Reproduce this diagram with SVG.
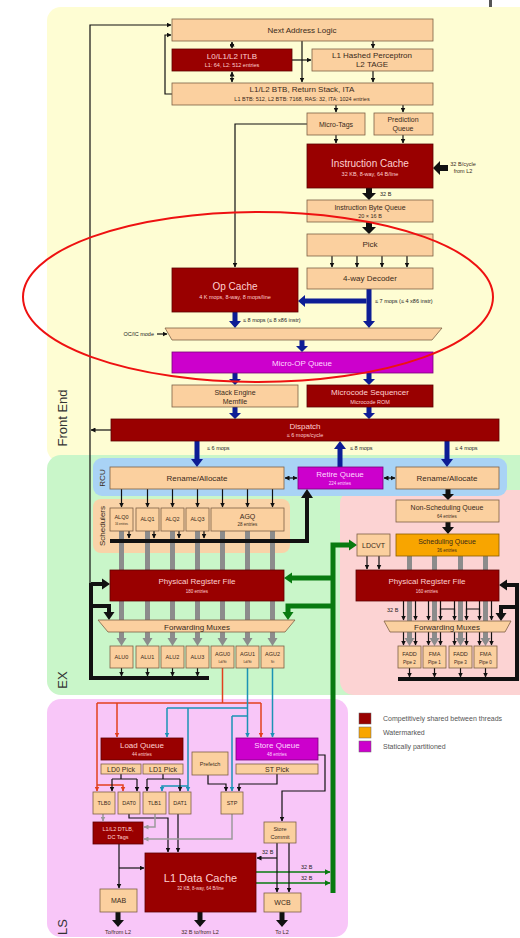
<svg xmlns="http://www.w3.org/2000/svg" width="520" height="938" viewBox="0 0 520 938">
<style>
.pb{fill:#fbd09f;stroke:#7d5f45;stroke-width:0.8}
.dr{fill:#990000;stroke:#5c0000;stroke-width:0.8}
.mg{fill:#cc00cc;stroke:#7a007a;stroke-width:0.8}
.og{fill:#f8a500;stroke:#8a5c00;stroke-width:0.8}
text{font-family:"Liberation Sans",Arial,sans-serif;text-anchor:middle;fill:#3a2a1a;font-size:8px}
.w{fill:#ffd0d0}
.wm{fill:#ffd8ff}
.s{font-size:5.5px}
.xs{font-size:4.5px}
.m7{font-size:7px}
.l{font-size:10px}
.lab{text-anchor:start;font-size:5.5px;fill:#222}
.reg{font-size:13px;fill:#333}
.k{fill:none;stroke:#111;stroke-width:1.2}
.kt{fill:none;stroke:#111;stroke-width:4}
.gy{fill:none;stroke:#8c8c8c;stroke-width:5}
.rd{fill:none;stroke:#e2401e;stroke-width:1.5}
.tl{fill:none;stroke:#1b93b5;stroke-width:1.5}
.lg{fill:none;stroke:#9a9a9a;stroke-width:1.5}
.gr{fill:none;stroke:#087a10;stroke-width:5}
.grt{fill:none;stroke:#087a10;stroke-width:1.6}
.bl{fill:#0d1d95}
.kf{fill:#111}
.gf{fill:#087a10}
.gyf{fill:#8c8c8c}
</style>
<defs>
<marker id="ak" viewBox="0 0 10 10" refX="9" refY="5" markerWidth="5" markerHeight="5" markerUnits="userSpaceOnUse" orient="auto-start-reverse"><path d="M0,0 L10,5 L0,10 z" fill="#111"/></marker>
<marker id="ar" viewBox="0 0 10 10" refX="9" refY="5" markerWidth="5" markerHeight="5" markerUnits="userSpaceOnUse" orient="auto"><path d="M0,0 L10,5 L0,10 z" fill="#e2401e"/></marker>
<marker id="at" viewBox="0 0 10 10" refX="9" refY="5" markerWidth="5" markerHeight="5" markerUnits="userSpaceOnUse" orient="auto"><path d="M0,0 L10,5 L0,10 z" fill="#1b93b5"/></marker>
<marker id="ag" viewBox="0 0 10 10" refX="9" refY="5" markerWidth="5" markerHeight="5" markerUnits="userSpaceOnUse" orient="auto"><path d="M0,0 L10,5 L0,10 z" fill="#9a9a9a"/></marker>
<marker id="agr" viewBox="0 0 10 10" refX="9" refY="5" markerWidth="6" markerHeight="6" markerUnits="userSpaceOnUse" orient="auto"><path d="M0,0 L10,5 L0,10 z" fill="#087a10"/></marker>
</defs>

<g id="regions">
<rect x="47" y="7" width="500" height="455" rx="14" fill="#fefdd3"/>
<rect x="47" y="455" width="500" height="240" rx="14" fill="#c9f6c9"/>
<rect x="340" y="490" width="200" height="205" rx="14" fill="#fcd3d3"/>
<rect x="47" y="699" width="301" height="238" rx="14" fill="#f8c6f8"/>
<rect x="93" y="458" width="414" height="38" rx="9" fill="#a9d3f5"/>
<rect x="93" y="499" width="197" height="54" rx="8" fill="#f9d3a8"/>
<rect x="489" y="0" width="3" height="7" fill="#555"/>
<text class="reg" transform="translate(67,418) rotate(-90)">Front End</text>
<text class="reg" transform="translate(67,680) rotate(-90)">EX</text>
<text class="reg" transform="translate(67,927) rotate(-90)">LS</text>
<text transform="translate(105,478) rotate(-90)">RCU</text>
<text transform="translate(105,526) rotate(-90)">Schedulers</text>
</g>

<g id="connectors">
<path class="gy" d="M121.5,531 V638 M147.5,531 V638 M172.5,531 V638 M197.5,531 V638 M222.5,531 V638 M247.5,531 V638 M272.5,531 V638"/>
<path class="gyf" d="M116.5,638 H126.5 L121.5,646 Z M142.5,638 H152.5 L147.5,646 Z M167.5,638 H177.5 L172.5,646 Z M192.5,638 H202.5 L197.5,646 Z M217.5,638 H227.5 L222.5,646 Z M242.5,638 H252.5 L247.5,646 Z M267.5,638 H277.5 L272.5,646 Z"/>
<path class="gy" d="M409.5,556 V638 M434.5,556 V638 M460.5,556 V638 M485.5,556 V638"/>
<path class="gyf" d="M404.5,638 H414.5 L409.5,646 Z M429.5,638 H439.5 L434.5,646 Z M455.5,638 H465.5 L460.5,646 Z M480.5,638 H490.5 L485.5,646 Z"/>

<path class="k" d="M90,584 V25 H171" marker-end="url(#ak)"/>
<path class="k" d="M172,94 H165 V35 H171" marker-end="url(#ak)"/>
<path class="k" d="M111,430 H91" marker-end="url(#ak)"/>
<path class="k" d="M232,42 V48" marker-start="url(#ak)" marker-end="url(#ak)"/>
<path class="k" d="M232,72 V82" marker-start="url(#ak)" marker-end="url(#ak)"/>
<path class="k" d="M302,41 V82" marker-end="url(#ak)"/>
<path class="k" d="M292,60 H311" marker-end="url(#ak)"/>
<path class="k" d="M373,41 V48" marker-end="url(#ak)"/>
<path class="k" d="M373,71 V82" marker-end="url(#ak)"/>
<path class="k" d="M336,105 V112" marker-end="url(#ak)"/>
<path class="k" d="M403,105 V112" marker-end="url(#ak)"/>
<path class="k" d="M336,135 V143" marker-end="url(#ak)"/>
<path class="k" d="M403,135 V143" marker-end="url(#ak)"/>
<path class="k" d="M307,124 H235 V267" marker-end="url(#ak)"/>
<path class="k" d="M332,256 V267" marker-end="url(#ak)"/>
<path class="k" d="M357,256 V267" marker-end="url(#ak)"/>
<path class="k" d="M382,256 V267" marker-end="url(#ak)"/>
<path class="k" d="M407,256 V267" marker-end="url(#ak)"/>
<path class="k" d="M157,334 H167" marker-end="url(#ak)"/>

<path class="kf" d="M366,188 H372 V193 H376 L369,200 L362,193 H366 Z"/>
<path class="kf" d="M366,222 H372 V227 H376 L369,234 L362,227 H366 Z"/>
<path class="kf" d="M448,165 V171 H440 V175 L433,168 L440,161 V165 Z"/>

<path class="bl" d="M366.5,289 H371.5 V321 H375 L369,328 L363,321 H366.5 Z"/>
<path class="bl" d="M366.5,298.5 H305 V295 L298,301 L305,307 V303.5 H366.5 Z"/>
<path class="bl" d="M232.5,312 H237.5 V321 H241 L235,328 L229,321 H232.5 Z"/>
<path class="bl" d="M299.5,340 H304.5 V346 H308 L302,352 L296,346 H299.5 Z"/>
<path class="bl" d="M232.5,373 H237.5 V379 H241 L235,385 L229,379 H232.5 Z"/>
<path class="bl" d="M366.5,373 H371.5 V379 H375 L369,385 L363,379 H366.5 Z"/>
<path class="bl" d="M232.5,407 H237.5 V413 H241 L235,419 L229,413 H232.5 Z"/>
<path class="bl" d="M366.5,407 H371.5 V413 H375 L369,419 L363,413 H366.5 Z"/>
<path class="bl" d="M194.5,441 H199.5 V459 H203 L197,467 L191,459 H194.5 Z"/>
<path class="bl" d="M337.5,467 H342.5 V449 H346 L340,441 L334,449 H337.5 Z"/>
<path class="bl" d="M444.5,441 H449.5 V459 H453 L447,467 L441,459 H444.5 Z"/>

<text class="lab" x="380" y="196">32 B</text>
<text class="s" x="463" y="166">32 B/cycle</text>
<text class="s" x="463" y="173">from L2</text>
<text class="lab" x="375" y="303">≤ 7 mops (≤ 4 x86 instr)</text>
<text class="lab" x="243" y="322">≤ 8 mops (≤ 8 x86 instr)</text>
<text class="lab" x="154" y="336" style="text-anchor:end">OC/IC mode</text>
<text class="lab" x="207" y="450">≤ 6 mops</text>
<text class="lab" x="350" y="450">≤ 8 mops</text>
<text class="lab" x="455" y="450">≤ 4 mops</text>

<path class="k" d="M121.5,489 V507" marker-end="url(#ak)"/>
<path class="k" d="M147.5,489 V507" marker-end="url(#ak)"/>
<path class="k" d="M172.5,489 V507" marker-end="url(#ak)"/>
<path class="k" d="M197.5,489 V507" marker-end="url(#ak)"/>
<path class="k" d="M222.5,489 V507" marker-end="url(#ak)"/>
<path class="k" d="M247.5,489 V507" marker-end="url(#ak)"/>
<path class="k" d="M272.5,489 V507" marker-end="url(#ak)"/>
<path class="k" d="M285,478 H297" marker-start="url(#ak)" marker-end="url(#ak)"/>
<path class="k" d="M384,478 H395" marker-start="url(#ak)" marker-end="url(#ak)"/>
<path class="k" d="M129,531 V538" marker-end="url(#ak)"/>
<path class="k" d="M154,531 V538" marker-end="url(#ak)"/>
<path class="k" d="M179,531 V538" marker-end="url(#ak)"/>
<path class="k" d="M204,531 V538" marker-end="url(#ak)"/>
<path class="kt" d="M110,541 H307 V498"/>
<path class="kf" d="M301,498 H313 L307,489 Z"/>
<path class="kt" d="M91,583 V678 H209 M91,584 H102 M91,606 H109 V612"/>
<path class="kf" d="M102,578.5 V589.5 L110,584 Z M103.5,612 H114.5 L109,620 Z"/>
<path class="k" d="M121.5,668 V676" marker-end="url(#ak)"/>
<path class="k" d="M147.5,668 V676" marker-end="url(#ak)"/>
<path class="k" d="M172.5,668 V676" marker-end="url(#ak)"/>
<path class="k" d="M197.5,668 V676" marker-end="url(#ak)"/>

<path class="kf" d="M445.5,489 H450.5 V494 H454 L448,500 L442,494 H445.5 Z"/>
<path class="kf" d="M445.5,522 H450.5 V527 H454 L448,534 L442,527 H445.5 Z"/>
<path class="k" d="M367,556 V569" marker-end="url(#ak)"/>
<path class="k" d="M379,556 V569" marker-end="url(#ak)"/>
<path class="k" d="M403.5,601 V620" marker-end="url(#ak)"/>
<path class="k" d="M415.5,601 V620" marker-end="url(#ak)"/>
<path class="k" d="M428.5,601 V620" marker-end="url(#ak)"/>
<path class="k" d="M440.5,601 V620" marker-end="url(#ak)"/>
<path class="k" d="M454.5,601 V620" marker-end="url(#ak)"/>
<path class="k" d="M466.5,601 V620" marker-end="url(#ak)"/>
<path class="k" d="M479.5,601 V620" marker-end="url(#ak)"/>
<path class="k" d="M491.5,601 V620" marker-end="url(#ak)"/>
<path class="k" d="M440.5,614 V609 H454.5 V614 M466.5,614 V609 H479.5 V614"/>
<path class="k" d="M403.5,632 V645" marker-end="url(#ak)"/>
<path class="k" d="M415.5,632 V645" marker-end="url(#ak)"/>
<path class="k" d="M428.5,632 V645" marker-end="url(#ak)"/>
<path class="k" d="M440.5,632 V645" marker-end="url(#ak)"/>
<path class="k" d="M454.5,632 V645" marker-end="url(#ak)"/>
<path class="k" d="M466.5,632 V645" marker-end="url(#ak)"/>
<path class="k" d="M479.5,632 V645" marker-end="url(#ak)"/>
<path class="k" d="M491.5,632 V645" marker-end="url(#ak)"/>
<path class="k" d="M409.5,668 V677" marker-end="url(#ak)"/>
<path class="k" d="M434.5,668 V677" marker-end="url(#ak)"/>
<path class="k" d="M460.5,668 V677" marker-end="url(#ak)"/>
<path class="k" d="M485.5,668 V677" marker-end="url(#ak)"/>
<path class="kt" d="M398,679 H517 V585 H507 M517,607 H501 V613"/>
<path class="kf" d="M507,579.5 V590.5 L499,585 Z M495.5,613 H506.5 L501,621 Z"/>
<text class="lab" x="387" y="612">32 B</text>

<path class="gr" d="M333,893 V545 H349 M333,578 H292 M333,606 H288 V612"/>
<path class="gf" d="M349,539.5 V550.5 L357,545 Z M292,572.5 V583.5 L284,578 Z M282.5,612 H293.5 L288,620 Z"/>
<path class="grt" d="M256,872 H330" marker-end="url(#agr)"/>
<path class="grt" d="M256,883 H330" marker-end="url(#agr)"/>
<text class="lab" x="301" y="869">32 B</text>
<text class="lab" x="301" y="880">32 B</text>

<path class="rd" d="M222.5,668 V703 M97,703 H261"/>
<path class="rd" d="M97,703 V791" marker-end="url(#ar)"/>
<path class="rd" d="M97,785 H123 V791" marker-end="url(#ar)"/>
<path class="rd" d="M117,703 V737" marker-end="url(#ar)"/>
<path class="rd" d="M261,703 V737" marker-end="url(#ar)"/>
<path class="tl" d="M247.5,668 V737" marker-end="url(#at)"/>
<path class="tl" d="M272.5,668 V737" marker-end="url(#at)"/>
<path class="tl" d="M167,708 H247.5 M232,716 H247.5"/>
<path class="tl" d="M167,708 V737" marker-end="url(#at)"/>
<path class="tl" d="M188,708 V791" marker-end="url(#at)"/>
<path class="tl" d="M188,786 H162 V791" marker-end="url(#at)"/>
<path class="tl" d="M232,716 V791" marker-end="url(#at)"/>

<path class="k" d="M121,774 V779 M112,779 H137 M163,774 V779 M147,779 H180"/>
<path class="k" d="M112,779 V791" marker-end="url(#ak)"/>
<path class="k" d="M137,779 V791" marker-end="url(#ak)"/>
<path class="k" d="M147,779 V791" marker-end="url(#ak)"/>
<path class="k" d="M180,779 V791" marker-end="url(#ak)"/>
<path class="k" d="M208,775 V784 H226 V791" marker-end="url(#ak)"/>
<path class="k" d="M277,774 V784 H239 V791" marker-end="url(#ak)"/>
<path class="k" d="M129,814 V818 H168 V852" marker-end="url(#ak)"/>
<path class="k" d="M178,814 V852" marker-end="url(#ak)"/>
<path class="k" d="M119,844 V888" marker-end="url(#ak)"/>
<path class="k" d="M119,868 H144" marker-end="url(#ak)"/>
<path class="k" d="M318,755 H325 V791 H282 V821" marker-end="url(#ak)"/>
<path class="k" d="M277,843 V892" marker-end="url(#ak)"/>
<path class="k" d="M277,858 H257" marker-end="url(#ak)"/>
<path class="k" d="M289,843 V892" marker-end="url(#ak)"/>
<text class="lab" x="262" y="854">32 B</text>
<path class="lg" d="M103,814 V821" marker-end="url(#ag)"/>
<path class="lg" d="M155,814 V827 H144" marker-end="url(#ag)"/>
<path class="lg" d="M232,814 V839 H144" marker-end="url(#ag)"/>

<path class="kf" d="M115.5,912 H120.5 V920 H124 L118,927 L112,920 H115.5 Z"/>
<path class="kf" d="M197.5,912 H202.5 V920 H206 L200,927 L194,920 H197.5 Z"/>
<path class="kf" d="M279.5,912 H284.5 V920 H288 L282,927 L276,920 H279.5 Z"/>
<text class="s" x="118" y="934">To/from L2</text>
<text class="s" x="200" y="934">32 B to/from L2</text>
<text class="s" x="282" y="934">To L2</text>
</g>

<g id="nal"><rect class="pb" x="172" y="19" width="261" height="22"/><text x="302" y="33">Next Address Logic</text></g>
<g id="itlb"><rect class="dr" x="172" y="49" width="120" height="22"/><text class="w" x="232" y="59">L0/L1/L2 ITLB</text><text class="w s" x="232" y="67">L1: 64, L2: 512 entries</text></g>
<g id="perceptron"><rect class="pb" x="312" y="49" width="121" height="22"/><text x="372" y="58">L1 Hashed Perceptron</text><text x="372" y="67">L2 TAGE</text></g>
<g id="btb"><rect class="pb" x="172" y="83" width="261" height="22"/><text x="302" y="92">L1/L2 BTB, Return Stack, ITA</text><text class="s" x="302" y="101">L1 BTB: 512, L2 BTB: 7168, RAS: 32, ITA: 1024 entries</text></g>
<g id="microtags"><rect class="pb" x="307" y="113" width="58" height="22"/><text class="m7" x="336" y="127">Micro-Tags</text></g>
<g id="predq"><rect class="pb" x="374" y="113" width="59" height="22"/><text class="m7" x="403" y="122">Prediction</text><text class="m7" x="403" y="131">Queue</text></g>
<g id="icache"><rect class="dr" x="307" y="144" width="126" height="44"/><text class="w l" x="370" y="167">Instruction Cache</text><text class="w s" x="370" y="176">32 KB, 8-way, 64 B/line</text></g>
<g id="ibq"><rect class="pb" x="307" y="200" width="126" height="22"/><text class="m7" x="370" y="210">Instruction Byte Queue</text><text class="s" x="370" y="218">20 × 16 B</text></g>
<g id="pick"><rect class="pb" x="307" y="234" width="126" height="22"/><text x="370" y="247">Pick</text></g>
<g id="decoder"><rect class="pb" x="307" y="268" width="126" height="21"/><text x="370" y="281">4-way Decoder</text></g>
<g id="opcache"><rect class="dr" x="172" y="268" width="126" height="44"/><text class="w l" x="235" y="290">Op Cache</text><text class="w s" x="235" y="299">4 K mops, 8-way, 8 mops/line</text></g>
<g id="ocmux"><polygon class="pb" points="165,328 442,328 432,340 172,340"/></g>
<g id="uopq"><rect class="mg" x="172" y="352" width="261" height="21"/><text class="wm" x="302" y="366">Micro-OP Queue</text></g>
<g id="stackengine"><rect class="pb" x="172" y="385" width="126" height="22"/><text class="m7" x="235" y="395">Stack Engine</text><text class="m7" x="235" y="404">Memfile</text></g>
<g id="msrom"><rect class="dr" x="307" y="385" width="126" height="22"/><text class="w" x="370" y="395">Microcode Sequencer</text><text class="w s" x="370" y="404">Microcode ROM</text></g>
<g id="dispatch"><rect class="dr" x="111" y="419" width="388" height="22"/><text class="w" x="305" y="429">Dispatch</text><text class="w s" x="305" y="437">≤ 6 mops/cycle</text></g>

<g id="rename"><rect class="pb" x="110" y="467" width="174" height="22"/><text x="197" y="481">Rename/Allocate</text></g>
<g id="retire"><rect class="mg" x="298" y="467" width="85" height="22"/><text class="wm" x="340" y="477">Retire Queue</text><text class="wm xs" x="340" y="485">224 entries</text></g>
<g id="fprename"><rect class="pb" x="396" y="467" width="103" height="22"/><text x="447" y="481">Rename/Allocate</text></g>
<g id="nsq"><rect class="pb" x="396" y="500" width="103" height="22"/><text class="m7" x="447" y="510">Non-Scheduling Queue</text><text class="xs" x="447" y="518">64 entries</text></g>
<g id="schedq"><rect class="og" x="396" y="534" width="103" height="22"/><text class="m7" x="447" y="544">Scheduling Queue</text><text class="xs" x="447" y="552">36 entries</text></g>
<g id="ldcvt"><rect class="pb" x="357" y="534" width="33" height="22"/><text class="m7" x="373.5" y="548">LDCVT</text></g>
<g id="fpprf"><rect class="dr" x="356" y="570" width="143" height="31"/><text class="w" x="427" y="584">Physical Register File</text><text class="w xs" x="427" y="593">160 entries</text></g>
<g id="fpmux"><polygon class="pb" points="384,621 511,621 505,632 390,632"/><text x="447" y="630">Forwarding Muxes</text></g>
<g id="fadd2"><rect class="pb" x="398" y="646" width="23" height="22"/><text class="s" x="409.5" y="656">FADD</text><text class="xs" x="409.5" y="664">Pipe 2</text></g>
<g id="fma1"><rect class="pb" x="423" y="646" width="23" height="22"/><text class="s" x="434.5" y="656">FMA</text><text class="xs" x="434.5" y="664">Pipe 1</text></g>
<g id="fadd3"><rect class="pb" x="449" y="646" width="23" height="22"/><text class="s" x="460.5" y="656">FADD</text><text class="xs" x="460.5" y="664">Pipe 3</text></g>
<g id="fma0"><rect class="pb" x="474" y="646" width="23" height="22"/><text class="s" x="485.5" y="656">FMA</text><text class="xs" x="485.5" y="664">Pipe 0</text></g>

<g id="alq0"><rect class="pb" x="110" y="508" width="23" height="23"/><text class="s" x="121.5" y="519">ALQ0</text><text style="font-size:3px" x="121.5" y="525">16 entries</text></g>
<g id="alq1"><rect class="pb" x="136" y="508" width="23" height="23"/><text class="s" x="147.5" y="521">ALQ1</text></g>
<g id="alq2"><rect class="pb" x="161" y="508" width="23" height="23"/><text class="s" x="172.5" y="521">ALQ2</text></g>
<g id="alq3"><rect class="pb" x="186" y="508" width="23" height="23"/><text class="s" x="197.5" y="521">ALQ3</text></g>
<g id="agq"><rect class="pb" x="211" y="508" width="73" height="23"/><text class="m7" x="247.5" y="519">AGQ</text><text class="xs" x="247.5" y="526">28 entries</text></g>
<g id="intprf"><rect class="dr" x="110" y="570" width="174" height="31"/><text class="w" x="197" y="584">Physical Register File</text><text class="w xs" x="197" y="593">180 entries</text></g>
<g id="intmux"><polygon class="pb" points="98,620 295,620 285,632 108,632"/><text x="197" y="629.5">Forwarding Muxes</text></g>
<g id="alu0"><rect class="pb" x="110" y="646" width="23" height="22"/><text class="s" x="121.5" y="659">ALU0</text></g>
<g id="alu1"><rect class="pb" x="136" y="646" width="23" height="22"/><text class="s" x="147.5" y="659">ALU1</text></g>
<g id="alu2"><rect class="pb" x="161" y="646" width="23" height="22"/><text class="s" x="172.5" y="659">ALU2</text></g>
<g id="alu3"><rect class="pb" x="186" y="646" width="23" height="22"/><text class="s" x="197.5" y="659">ALU3</text></g>
<g id="agu0"><rect class="pb" x="211" y="646" width="23" height="22"/><text class="s" x="222.5" y="656">AGU0</text><text style="font-size:3.5px" x="222.5" y="663">Ld/St</text></g>
<g id="agu1"><rect class="pb" x="236" y="646" width="23" height="22"/><text class="s" x="247.5" y="656">AGU1</text><text style="font-size:3.5px" x="247.5" y="663">Ld/St</text></g>
<g id="agu2"><rect class="pb" x="261" y="646" width="23" height="22"/><text class="s" x="272.5" y="656">AGU2</text><text style="font-size:3.5px" x="272.5" y="663">St</text></g>

<g id="loadq"><rect class="dr" x="101" y="738" width="82" height="22"/><text class="w" x="142" y="748">Load Queue</text><text class="w xs" x="142" y="756">44 entries</text></g>
<g id="ld0pick"><rect class="pb" x="101" y="764" width="40" height="10"/><text class="m7" x="121" y="772">LD0 Pick</text></g>
<g id="ld1pick"><rect class="pb" x="143" y="764" width="40" height="10"/><text class="m7" x="163" y="772">LD1 Pick</text></g>
<g id="prefetch"><rect class="pb" x="192" y="752" width="36" height="23"/><text class="s" x="210" y="766">Prefetch</text></g>
<g id="storeq"><rect class="mg" x="236" y="738" width="82" height="22"/><text class="wm" x="277" y="748">Store Queue</text><text class="wm xs" x="277" y="756">48 entries</text></g>
<g id="stpick"><rect class="pb" x="236" y="764" width="82" height="10"/><text class="m7" x="277" y="772">ST Pick</text></g>
<g id="tlb0"><rect class="pb" x="93" y="792" width="22" height="22"/><text class="s" x="104" y="805">TLB0</text></g>
<g id="dat0"><rect class="pb" x="118" y="792" width="22" height="22"/><text class="s" x="129" y="805">DAT0</text></g>
<g id="tlb1"><rect class="pb" x="143" y="792" width="23" height="22"/><text class="s" x="154.5" y="805">TLB1</text></g>
<g id="dat1"><rect class="pb" x="169" y="792" width="22" height="22"/><text class="s" x="180" y="805">DAT1</text></g>
<g id="stp"><rect class="pb" x="221" y="792" width="22" height="22"/><text class="s" x="232" y="805">STP</text></g>
<g id="dtlb"><rect class="dr" x="93" y="822" width="50" height="22"/><text class="w s" x="118" y="831">L1/L2 DTLB,</text><text class="w s" x="118" y="839">DC Tags</text></g>
<g id="l1d"><rect class="dr" x="145" y="853" width="111" height="59"/><text class="w" style="font-size:11px" x="200.5" y="882">L1 Data Cache</text><text class="w xs" x="200.5" y="890">32 KB, 8-way, 64 B/line</text></g>
<g id="mab"><rect class="pb" x="100" y="889" width="37" height="23"/><text class="m7" x="118.5" y="903">MAB</text></g>
<g id="storecommit"><rect class="pb" x="264" y="822" width="32" height="21"/><text class="s" x="280" y="831">Store</text><text class="s" x="280" y="839">Commit</text></g>
<g id="wcb"><rect class="pb" x="264" y="893" width="37" height="19"/><text class="m7" x="282.5" y="905">WCB</text></g>

<g id="legend">
<rect x="359" y="713" width="12" height="11" fill="#990000" stroke="#666" stroke-width="0.5"/>
<rect x="359" y="727" width="12" height="11" fill="#f8a500" stroke="#666" stroke-width="0.5"/>
<rect x="359" y="741" width="12" height="11" fill="#cc00cc" stroke="#666" stroke-width="0.5"/>
<text class="m7" style="text-anchor:start;fill:#555" x="383" y="721">Competitively shared between threads</text>
<text class="m7" style="text-anchor:start;fill:#555" x="383" y="735">Watermarked</text>
<text class="m7" style="text-anchor:start;fill:#555" x="383" y="749">Statically partitioned</text>
</g>

<ellipse cx="258" cy="297" rx="235" ry="85" fill="none" stroke="#ee1111" stroke-width="2"/>
</svg>
